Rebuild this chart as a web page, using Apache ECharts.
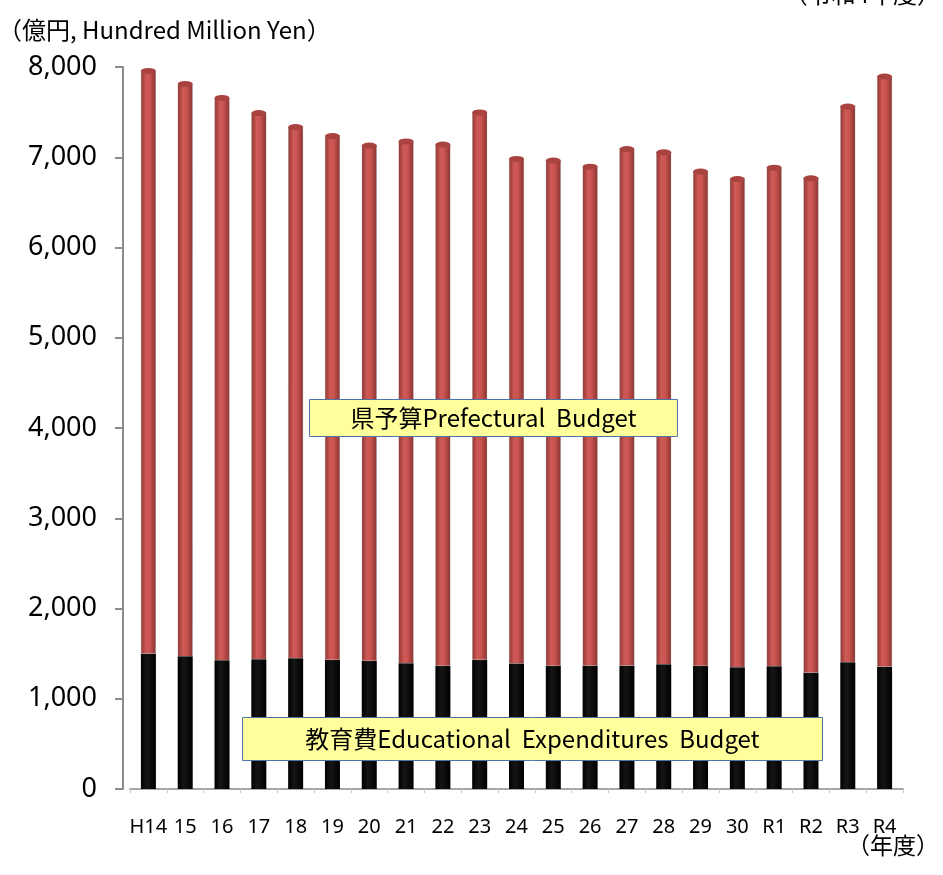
<!DOCTYPE html>
<html>
<head>
<meta charset="utf-8">
<script src="https://cdn.jsdelivr.net/npm/echarts@6/dist/echarts.min.js"></script>
<style>
  html, body { margin: 0; padding: 0; background: #fff; }
  #chart { width: 943px; height: 875px; }
</style>
</head>
<body>
<div id="chart"></div>
<script>
// 年度
const years = ['H14', '15', '16', '17', '18', '19', '20', '21', '22', '23', '24',
  '25', '26', '27', '28', '29', '30', 'R1', 'R2', 'R3', 'R4']
// 県予算 (total, 億円)
const prefBudget = [7956, 7812, 7657, 7490, 7335, 7235, 7130, 7175, 7141, 7496, 6981,
  6963, 6896, 7091, 7055, 6841, 6759, 6885, 6767, 7561, 7894]
// 教育費 (億円)
const eduBudget = [1500, 1470, 1426, 1437, 1448, 1429, 1418, 1393, 1363, 1429, 1390,
  1363, 1366, 1366, 1381, 1363, 1348, 1359, 1289, 1404, 1355]
const yTicks = [0, 1000, 2000, 3000, 4000, 5000, 6000, 7000, 8000]

// red part sits on top of the black part
const restBudget = prefBudget.map((v, i) => v - eduBudget[i])

const jp = '"Noto Sans CJK JP", "Noto Sans", sans-serif'

const redGrad = new echarts.graphic.LinearGradient(0, 0, 1, 0, [
  {offset: 0, color: '#8f3633'},
  {offset: 0.35, color: '#cf5a56'},
  {offset: 0.6, color: '#c9534f'},
  {offset: 1, color: '#8a3330'}
])
const blackGrad = new echarts.graphic.LinearGradient(0, 0, 1, 0, [
  {offset: 0, color: '#000'},
  {offset: 0.4, color: '#151515'},
  {offset: 1, color: '#000'}
])

// 凡例代わりの黄色いラベル
function noteBox(left, top, w, h, text) {
  return {
    type: 'rect', left: left, top: top, z: 100,
    shape: {width: w, height: h},
    style: {fill: '#ffff9c', stroke: '#4f74a8', lineWidth: 1},
    textContent: {
      z: 101,
      style: {text: text, fontSize: 24, fontFamily: jp, fill: '#000'}
    },
    textConfig: {position: 'inside'}
  }
}

const chart = echarts.init(document.getElementById('chart'))
const option = {
  animation: false,
  grid: {left: 130, right: 40, top: 67, bottom: 86},
  xAxis: {
    type: 'category',
    data: years,
    axisLine: {lineStyle: {color: '#a6a6a6', width: 2}},
    axisTick: {show: true, alignWithLabel: false, length: 4, lineStyle: {color: '#c8c8c8'}},
    axisLabel: {
      interval: 0,
      margin: 28,
      color: '#000',
      fontSize: 20,
      fontFamily: '"Liberation Sans Narrow", "Noto Sans", sans-serif'
    }
  },
  yAxis: {
    type: 'value',
    min: 0,
    max: yTicks[yTicks.length - 1],
    interval: 1000,
    offset: 7,
    splitLine: {show: false},
    axisLine: {show: true, lineStyle: {color: '#8c8c8c', width: 2}},
    axisTick: {show: true, length: 8, lineStyle: {color: '#8c8c8c', width: 2}},
    axisLabel: {
      margin: 26,
      color: '#000',
      fontSize: 27,
      fontFamily: '"Noto Sans", sans-serif',
      formatter: v => v.toLocaleString('en-US')
    }
  },
  series: [
    {
      name: '教育費',
      type: 'bar',
      stack: 'total',
      barWidth: 15,
      data: eduBudget,
      itemStyle: {color: blackGrad}
    },
    {
      name: '県予算',
      type: 'bar',
      stack: 'total',
      barWidth: 15,
      data: restBudget,
      itemStyle: {color: redGrad, borderColor: 'rgba(150,150,150,0.5)', borderWidth: 0.5}
    },
    {
      // cylinder top
      name: 'top',
      type: 'pictorialBar',
      symbol: 'circle',
      symbolSize: [15, 6],
      symbolPosition: 'end',
      symbolOffset: [0, '-50%'],
      barGap: '-100%',
      z: 5,
      data: prefBudget,
      itemStyle: {color: '#a84340'}
    }
  ],
  graphic: [
    {
      type: 'text', left: -2, top: 18, z: 100,
      style: {text: '（億円, Hundred Million Yen）', fontSize: 24, fontFamily: jp, fill: '#000'}
    },
    {
      type: 'text', right: 2, top: -18, z: 100,
      style: {text: '（令和4年度）', fontSize: 24, fontFamily: jp, fill: '#000'}
    },
    {
      type: 'text', right: 4, top: 834, z: 100,
      style: {text: '（年度）', fontSize: 23, fontFamily: jp, fill: '#000'}
    },
    noteBox(309, 399, 368, 37, '県予算Prefectural  Budget'),
    noteBox(242, 717, 580, 43, '教育費Educational  Expenditures  Budget')
  ]
}
option && chart.setOption(option)
</script>
</body>
</html>
